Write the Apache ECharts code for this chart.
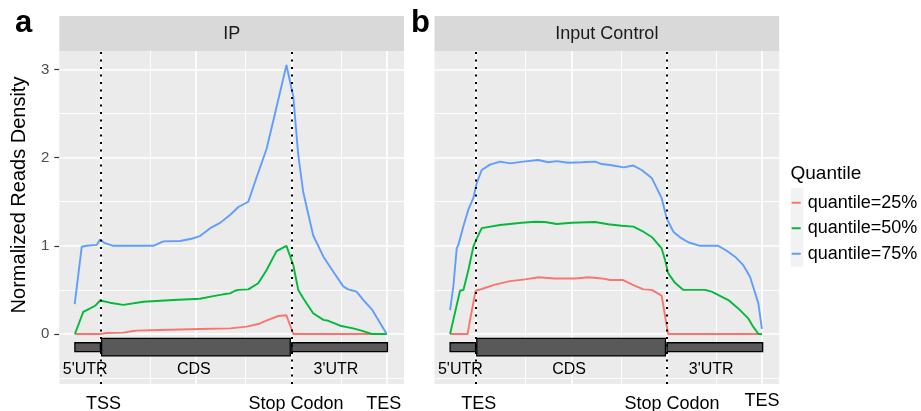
<!DOCTYPE html>
<html>
<head>
<meta charset="utf-8">
<script src="https://cdn.jsdelivr.net/npm/echarts@6/dist/echarts.min.js"></script>
<style>
html,body{margin:0;padding:0;background:#fff;}
#chart{width:921px;height:411px;}
</style>
</head>
<body>
<div id="chart"></div>
<script>
// ---------- data ----------
const panelTitles = ['IP', 'Input Control'];
const seriesNames = ['quantile=25%', 'quantile=50%', 'quantile=75%'];
const seriesColors = ['#F8766D', '#00BA38', '#619CFF'];

// IP panel (x: relative transcript position, y: normalized density)
const ip25 = [[.182,0],[.248,0],[.265,.011],[.309,.015],[.335,.034],[.344,.038],[.405,.045],[.51,.057],[.589,.064],[.633,.083],[.663,.113],[.689,.16],[.716,.204],[.737,.212],[.755,0],[1.0,0]];
const ip50 = [[.182,0],[.204,.25],[.217,.28],[.235,.32],[.248,.38],[.274,.355],[.309,.33],[.362,.366],[.44,.385],[.51,.40],[.545,.43],[.571,.45],[.589,.46],[.602,.49],[.611,.50],[.637,.506],[.663,.575],[.685,.726],[.711,.94],[.737,1.0],[.755,.78],[.768,.50],[.781,.405],[.807,.235],[.834,.16],[.847,.15],[.878,.094],[.912,.064],[.934,.038],[.961,0],[1.0,0]];
const ip75 = [[.1815,.34],[.200,.99],[.213,1.0],[.239,1.01],[.248,1.07],[.261,1.03],[.283,1.0],[.388,1.0],[.414,1.05],[.458,1.055],[.488,1.08],[.510,1.11],[.537,1.20],[.563,1.26],[.589,1.35],[.611,1.44],[.637,1.50],[.659,1.78],[.685,2.10],[.707,2.50],[.737,3.05],[.755,2.69],[.768,2.03],[.781,1.61],[.807,1.12],[.834,.877],[.860,.706],[.886,.54],[.899,.506],[.921,.48],[.939,.385],[.961,.28],[1.0,0]];

// Input Control panel
const in25 = [[.182,0],[.228,0],[.234,.15],[.249,.49],[.265,.51],[.30,.56],[.339,.60],[.379,.62],[.414,.643],[.457,.63],[.51,.63],[.545,.643],[.58,.63],[.602,.612],[.636,.612],[.663,.555],[.689,.506],[.711,.50],[.737,.435],[.754,0],[1.0,0]];
const in50 = [[.182,0],[.208,.49],[.217,.50],[.230,.726],[.243,.99],[.252,1.085],[.265,1.20],[.313,1.236],[.37,1.262],[.405,1.273],[.431,1.27],[.462,1.247],[.501,1.262],[.562,1.27],[.597,1.244],[.632,1.228],[.663,1.217],[.685,1.17],[.711,1.10],[.737,.97],[.746,.84],[.754,.69],[.772,.58],[.794,.50],[.851,.50],[.868,.48],[.912,.385],[.938,.29],[.964,.178],[.977,.083],[.991,0],[1.0,0]];
const in75 = [[.182,.27],[.1905,.54],[.1994,.97],[.2036,1.01],[.2167,1.22],[.2298,1.41],[.2429,1.54],[.2518,1.71],[.265,1.86],[.2867,1.92],[.313,1.955],[.3392,1.935],[.3741,1.955],[.4134,1.973],[.4397,1.947],[.4617,1.96],[.4921,1.942],[.5273,1.947],[.5622,1.955],[.5798,1.927],[.6015,1.916],[.6377,1.89],[.6627,1.91],[.6847,1.86],[.7109,1.77],[.7371,1.54],[.7503,1.31],[.7676,1.16],[.7852,1.096],[.8069,1.04],[.8376,1.0],[.8856,1.0],[.9077,.944],[.9294,.877],[.9512,.78],[.9688,.65],[.9906,.35],[1.0,.057]];

// axis ranges and ticks
const xRange = [0.1411, 1.0454];
const yRange = [-0.567, 3.209];
const yTicks = [0, 1, 2, 3];
const yMinorGrid = [-0.5, 0.5, 1.5, 2.5];
const xMajorGrid = [0.25, 0.5, 0.75, 1.0];
const xMinorGrid = [0.375, 0.625, 0.875];
const landmarks = [0.25, 0.75];  // TSS / Stop codon dotted lines

// x-axis landmark labels
const ipLabelPos = [0.257, 0.762, 0.992];
const ipLabels = ['TSS', 'Stop Codon', 'TES'];
const inLabelPos = [0.257, 0.764, 1.0];
const inLabels = ['TES', 'Stop Codon', 'TES'];
const raisedLabel = [[false, false, false], [false, false, true]];

// gene structure: [start, end, yLow, yHigh]
const geneParts = [[0.182, 0.249, -0.200, -0.099], [0.252, 0.747, -0.249, -0.049], [0.751, 1.002, -0.200, -0.099]];
const partLabels = ["5'UTR", 'CDS', "3'UTR"];
const partLabelPos = [[0.209, -0.408], [0.494, -0.408], [0.867, -0.408]];

// ---------- chart ----------
const FONT = '"Liberation Sans", Arial, Helvetica, sans-serif';
const chart = echarts.init(document.getElementById('chart'), null, {renderer: 'canvas'});

const grids = [
  {left: 59.3, top: 51, width: 344.7, height: 333},
  {left: 434.5, top: 51, width: 344.7, height: 333}
];

function gridLines() {
  const d = [];
  xMajorGrid.forEach(v => d.push({xAxis: v, lineStyle: {color: '#fff', width: 1.7, type: 'solid'}}));
  xMinorGrid.forEach(v => d.push({xAxis: v, lineStyle: {color: '#fff', width: 0.9, type: 'solid'}}));
  yTicks.forEach(v => d.push({yAxis: v, lineStyle: {color: '#fff', width: 1.7, type: 'solid'}}));
  yMinorGrid.forEach(v => d.push({yAxis: v, lineStyle: {color: '#fff', width: 0.9, type: 'solid'}}));
  return {silent: true, symbol: ['none', 'none'], label: {show: false}, z: 1, animation: false, data: d, emphasis: {disabled: true}};
}
function dottedLines() {
  return {silent: true, symbol: ['none', 'none'], label: {show: false}, z: 10, animation: false,
    emphasis: {disabled: true},
    data: landmarks.map(v => ({xAxis: v, lineStyle: {color: '#000', width: 2, type: [2, 5.5], cap: 'butt'}}))};
}

const panelData = [[ip25, ip50, ip75], [in25, in50, in75]];
const series = [];
panelData.forEach((arr, p) => {
  arr.forEach((d, i) => {
    const s = {
      type: 'line', name: seriesNames[i], xAxisIndex: p, yAxisIndex: p,
      data: d, showSymbol: false, symbol: 'none', z: 2,
      lineStyle: {color: seriesColors[i], width: 1.9},
      itemStyle: {color: seriesColors[i]},
      animation: false, silent: true
    };
    if (i === 0) s.markLine = gridLines();
    if (i === 2) s.markLine = dottedLines();
    series.push(s);
  });
  series.push({
    type: 'custom', xAxisIndex: p, yAxisIndex: p, z: 3, silent: true, animation: false,
    data: geneParts,
    encode: {x: [0, 1], y: [2, 3]},
    renderItem: (params, api) => {
      const a = api.coord([api.value(0), api.value(3)]);
      const b = api.coord([api.value(1), api.value(2)]);
      return {type: 'rect', shape: {x: a[0], y: a[1], width: b[0] - a[0], height: b[1] - a[1]},
        style: {fill: '#595959', stroke: '#000', lineWidth: 1.3}};
    }
  });
  series.push({
    type: 'custom', xAxisIndex: p, yAxisIndex: p, z: 4, silent: true, animation: false,
    data: partLabelPos,
    encode: {x: 0, y: 1},
    renderItem: (params, api) => {
      const c = api.coord([api.value(0), api.value(1)]);
      return {type: 'text', x: c[0], y: c[1],
        style: {text: partLabels[params.dataIndex], fill: '#000', font: '16px ' + FONT, align: 'center', verticalAlign: 'middle'}};
    }
  });
});

function xAxis(p, pos, labels) {
  return {
    type: 'value', gridIndex: p, min: xRange[0], max: xRange[1],
    splitLine: {show: false}, axisLine: {show: false}, axisTick: {show: false},
    axisLabel: {
      customValues: pos, margin: 8, color: '#000', fontSize: 18, fontFamily: FONT,
      formatter: v => {
        const k = pos.findIndex(q => Math.abs(q - v) < 1e-6);
        if (k < 0) return '';
        return raisedLabel[p][k] ? '{u|' + labels[k] + '}' : '{n|' + labels[k] + '}';
      },
      rich: {
        n: {fontSize: 18, fontFamily: FONT, color: '#000', padding: [3, 0, 0, 0]},
        u: {fontSize: 18, fontFamily: FONT, color: '#000', padding: [0, 0, 0, 0]}
      }
    }
  };
}
function yAxis(p, show) {
  const ax = {
    type: 'value', gridIndex: p, min: yRange[0], max: yRange[1],
    splitLine: {show: false}, axisLine: {show: false},
    axisTick: {show: show, customValues: yTicks, length: 5, lineStyle: {color: '#333', width: 1.2}},
    axisLabel: {show: show, customValues: yTicks, margin: 10, color: '#4d4d4d', fontSize: 15, fontFamily: FONT}
  };
  if (show) {
    ax.name = 'Normalized Reads Density';
    ax.nameLocation = 'middle';
    ax.nameGap = 30;
    ax.nameTextStyle = {color: '#000', fontSize: 20, fontFamily: FONT, padding: [0, 0, 0, 45]};
  }
  return ax;
}

const graphics = [];
grids.forEach((g, p) => {
  graphics.push({type: 'rect', shape: {x: g.left, y: 16, width: g.width, height: 35}, style: {fill: '#d9d9d9'}, silent: true});
  graphics.push({type: 'text', x: g.left + g.width / 2, y: 34, style: {text: panelTitles[p], fill: '#1a1a1a', font: '18px ' + FONT, align: 'center', verticalAlign: 'middle'}, silent: true});
});
graphics.push({type: 'text', x: 15, y: 23, style: {text: 'a', fill: '#000', font: 'bold 31px ' + FONT, align: 'left', verticalAlign: 'middle'}});
graphics.push({type: 'text', x: 411, y: 23, style: {text: 'b', fill: '#000', font: 'bold 31px ' + FONT, align: 'left', verticalAlign: 'middle'}});
graphics.push({type: 'text', x: 790.5, y: 174, style: {text: 'Quantile', fill: '#000', font: '19px ' + FONT, align: 'left', verticalAlign: 'middle'}});
graphics.push({type: 'rect', shape: {x: 790.7, y: 188, width: 12.6, height: 78.7}, style: {fill: '#f2f2f2'}, z: -1, silent: true});

chart.setOption({
  animation: false,
  backgroundColor: '#ffffff',
  textStyle: {fontFamily: FONT},
  grid: grids.map(g => Object.assign({show: true, backgroundColor: '#ebebeb', borderWidth: 0, outerBoundsMode: 'none', containLabel: false}, g)),
  xAxis: [xAxis(0, ipLabelPos, ipLabels), xAxis(1, inLabelPos, inLabels)],
  yAxis: [yAxis(0, true), yAxis(1, false)],
  legend: {
    orient: 'vertical', left: 791.7, top: 190, padding: 0, itemGap: 0,
    icon: 'rect', itemWidth: 9, itemHeight: 2,
    data: seriesNames, selectedMode: false,
    textStyle: {color: '#000', fontSize: 18, fontFamily: FONT, lineHeight: 25.5, padding: [0, 0, 0, 2]}
  },
  graphic: graphics,
  series: series
});
</script>
</body>
</html>
